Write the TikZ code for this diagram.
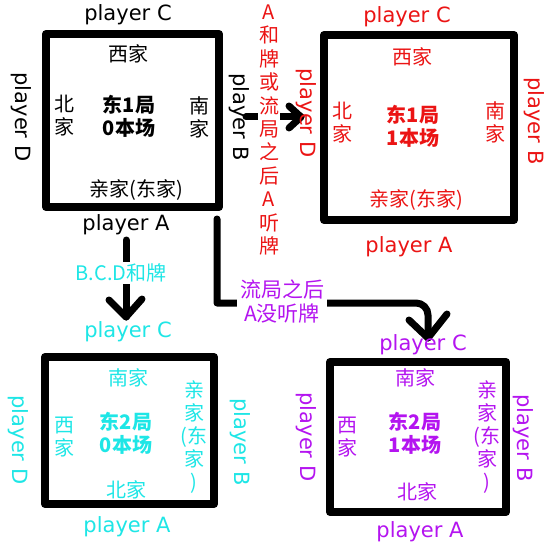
\documentclass[tikz,border=0pt]{standalone}
\usepackage{fontspec}
\setmainfont{DejaVu Sans}
\newfontfamily\cjk{Noto Sans CJK SC}
\definecolor{cred}{RGB}{235,20,20}
\definecolor{ccyan}{RGB}{30,230,230}
\definecolor{cpurple}{RGB}{180,20,240}
\begin{document}
\begin{tikzpicture}[x=1pt,y=-1pt,
  tbl/.style={draw, line width=8pt, line join=round, inner sep=0pt, outer sep=0pt},
  conn/.style={line width=7pt, line cap=round, line join=round},
  pl/.style={font=\fontsize{21}{24}\selectfont, inner sep=1pt},
  plv/.style={pl, rotate=-90},
  cj/.style={font=\cjk\fontsize{20}{23}\selectfont, inner sep=1pt, align=center},
  cjb/.style={font=\cjk\bfseries\fontsize{20}{23}\selectfont, inner sep=1pt, align=center},
]
\useasboundingbox[fill=white] (0,0) rectangle (553,553);

% tables
\node[tbl, minimum width=173pt, minimum height=173pt] (t1) at (132.5,120.5) {};
\node[tbl, minimum width=190pt, minimum height=185pt] (t2) at (419,127.5) {};
\node[tbl, minimum width=169pt, minimum height=147pt] (t3) at (129.5,430.5) {};
\node[tbl, minimum width=176pt, minimum height=150pt] (t4) at (418,437) {};

% connector end points
\coordinate (r0) at (246,117);
\coordinate (r1) at (301,117);
\coordinate (d0) at (126,240);
\coordinate (d1) at (126,317);
\coordinate (l0) at (217,219);
\coordinate (l1) at (217,303);
\coordinate (l2) at (416,303);
\coordinate (l3) at (428,315);
\coordinate (l4) at (428,338);

% connectors
\draw[conn] (r0) -- (r1);
\draw[conn] (289,106) -- (r1) -- (289,128);
\draw[conn] (d0) -- (d1);
\draw[conn] (109,300) -- (d1) -- (142,299);
\draw[conn] (l0) -- (l1) -- (l2) to[out=0,in=90] (l3) -- (l4);
\draw[conn] (409,320) -- (l4) -- (447,314);

% connector labels
\node[cj, text=cred, fill=white, font=\cjk\fontsize{20}{23.4}\selectfont] (lr) at (269,130) {A\\和\\牌\\或\\流\\局\\之\\后\\A\\听\\牌};
\node[cj, text=ccyan, fill=white, inner xsep=2pt, inner ysep=2pt] (ld) at (121,273) {B.C.D和牌};
\node[cj, text=cpurple, fill=white, inner xsep=3pt, inner ysep=1pt, font=\cjk\fontsize{21}{24}\selectfont] (ll) at (282,301) {流局之后\\A没听牌};

% table 1 (black)
\node[pl] (a1c) at (128,15) {player C};
\node[pl] (a1a) at (126,225) {player A};
\node[plv] (a1d) at (21,117) {player D};
\node[plv] (a1b) at (239,117) {player B};
\node[cj] (a1w) at (128,54) {西家};
\node[cj] (a1n) at (64,116) {北\\家};
\node[cj] (a1s) at (199,117) {南\\家};
\node[cj] (a1e) at (136,190) {亲家(东家)};
\node[cjb] (a1m) at (129,116) {东1局\\0本场};

% table 2 (red)
\begin{scope}[every node/.append style={text=cred}]
\node[pl] (a2c) at (407,17) {player C};
\node[pl] (a2a) at (409,247) {player A};
\node[plv] (a2d) at (306,113) {player D};
\node[plv] (a2b) at (534,121) {player B};
\node[cj] (a2w) at (412,57) {西家};
\node[cj] (a2n) at (342,123) {北\\家};
\node[cj] (a2s) at (495,122) {南\\家};
\node[cj] (a2e) at (416,200) {亲家(东家)};
\node[cjb] (a2m) at (413,126) {东1局\\1本场};
\end{scope}

% table 3 (cyan)
\begin{scope}[every node/.append style={text=ccyan}]
\node[pl] (a3c) at (128,332) {player C};
\node[pl] (a3a) at (127,527) {player A};
\node[plv] (a3d) at (18,440) {player D};
\node[plv] (a3b) at (240,442) {player B};
\node[cj] (a3w) at (128,378) {南家};
\node[cj] (a3n) at (64,437) {西\\家};
\node[cj] (a3s) at (194,437) {亲\\家\\(东\\家\\)};
\node[cj] (a3e) at (126,490) {北家};
\node[cjb] (a3m) at (126,433) {东2局\\0本场};
\end{scope}

% table 4 (purple)
\begin{scope}[every node/.append style={text=cpurple}]
\node[pl] (a4c) at (423,345) {player C};
\node[pl] (a4a) at (420,532) {player A};
\node[plv] (a4d) at (306,437) {player D};
\node[plv] (a4b) at (523,438) {player B};
\node[cj] (a4w) at (415,378) {南家};
\node[cj] (a4n) at (347,437) {西\\家};
\node[cj] (a4s) at (487,437) {亲\\家\\(东\\家\\)};
\node[cj] (a4e) at (417,492) {北家};
\node[cjb] (a4m) at (415,433) {东2局\\1本场};
\end{scope}
\end{tikzpicture}
\end{document}
